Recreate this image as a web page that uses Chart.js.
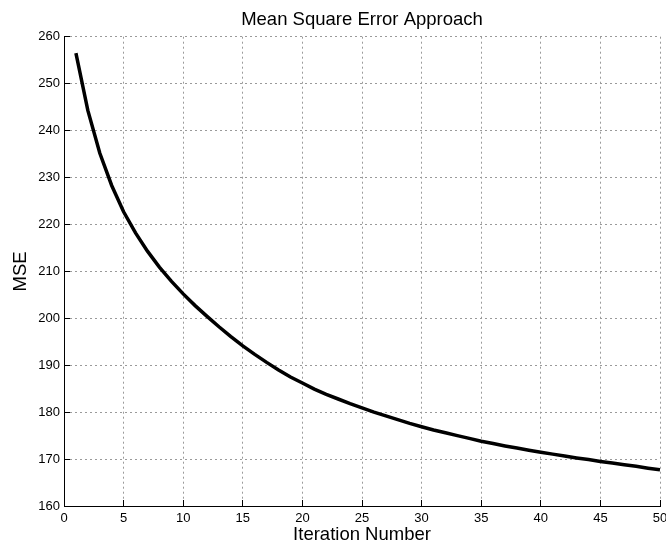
<!DOCTYPE html>
<html>
<head>
<meta charset="utf-8">
<title>Mean Square Error Approach</title>
<script src="https://cdn.jsdelivr.net/npm/chart.js@4.4.1/dist/chart.umd.min.js"></script>
<style>
  html, body { margin: 0; padding: 0; overflow: hidden; background: #fff; }
  canvas { display: block; }
</style>
</head>
<body>
<canvas id="mseChart" width="680" height="547"></canvas>
<script>
// iteration index and the MSE reached at each iteration
var iterations = [1, 2, 3, 4, 5, 6, 7, 8, 9, 10,
  11, 12, 13, 14, 15, 16, 17, 18, 19, 20,
  21, 22, 23, 24, 25, 26, 27, 28, 29, 30,
  31, 32, 33, 34, 35, 36, 37, 38, 39, 40,
  41, 42, 43, 44, 45, 46, 47, 48, 49, 50];
var mse = [256.5, 244.3, 235.2, 228.3, 222.7, 218.2, 214.3, 210.9, 207.9, 205.2,
  202.7, 200.4, 198.2, 196.1, 194.1, 192.3, 190.6, 189.0, 187.5, 186.2,
  184.9, 183.8, 182.8, 181.8, 180.9, 180.0, 179.2, 178.4, 177.6, 176.9,
  176.2, 175.6, 175.0, 174.4, 173.8, 173.3, 172.8, 172.35, 171.9, 171.45,
  171.05, 170.65, 170.25, 169.9, 169.5, 169.15, 168.8, 168.45, 168.05, 167.7];

var xTicks = [0, 5, 10, 15, 20, 25, 30, 35, 40, 45, 50];
var yTicks = [160, 170, 180, 190, 200, 210, 220, 230, 240, 250, 260];

var points = iterations.map(function (it, i) {
  return { x: it, y: mse[i] };
});

var fontFamily = '"Liberation Sans", Arial, Helvetica, sans-serif';

// matlab-ish axes: dotted grid, solid left/bottom spine, ticks pointing inward
function axisStyle(tickValues) {
  return {
    type: 'linear',
    min: tickValues[0],
    max: tickValues[tickValues.length - 1],
    afterBuildTicks: function (scale) {
      scale.ticks = tickValues.map(function (v) { return { value: v }; });
    },
    grid: {
      color: '#9a9a9a',
      lineWidth: 1,
      drawTicks: true,
      tickLength: -6,
      tickColor: '#000',
      tickWidth: 1
    },
    border: {
      display: true,
      color: '#000',
      width: 1,
      dash: [2, 3]
    },
    ticks: {
      color: '#000',
      font: { family: fontFamily, size: 13 },
      maxRotation: 0,
      autoSkip: false
    },
    title: {
      display: true,
      color: '#000',
      font: { family: fontFamily, size: 18.5 }
    }
  };
}

var xAxis = axisStyle(xTicks);
xAxis.position = 'bottom';
xAxis.ticks.padding = 11;
xAxis.title.text = 'Iteration Number';
xAxis.title.padding = { top: 0, bottom: 1 };
xAxis.afterFit = function (scale) { scale.height = 41; };

var yAxis = axisStyle(yTicks);
yAxis.position = 'left';
yAxis.ticks.padding = 10;
yAxis.title.text = 'MSE';
yAxis.title.padding = { top: 10, bottom: 0 };
yAxis.afterFit = function (scale) { scale.width = 64; };

var ctx = document.getElementById('mseChart').getContext('2d');
var mseChart = new Chart(ctx, {
  type: 'line',
  data: {
    datasets: [{
      label: 'MSE',
      data: points,
      borderColor: '#000',
      borderWidth: 3.5,
      pointRadius: 0,
      tension: 0,
      fill: false
    }]
  },
  options: {
    responsive: false,
    animation: false,
    layout: { padding: { left: 0, right: 20, top: 0, bottom: 0 } },
    scales: { x: xAxis, y: yAxis },
    plugins: {
      legend: { display: false },
      tooltip: { enabled: false },
      title: {
        display: true,
        fullSize: false,
        text: 'Mean Square Error Approach',
        color: '#000',
        font: { family: fontFamily, size: 18.5, weight: 'normal' },
        padding: { top: 9, bottom: 5.5 }
      }
    }
  }
});
</script>
</body>
</html>
